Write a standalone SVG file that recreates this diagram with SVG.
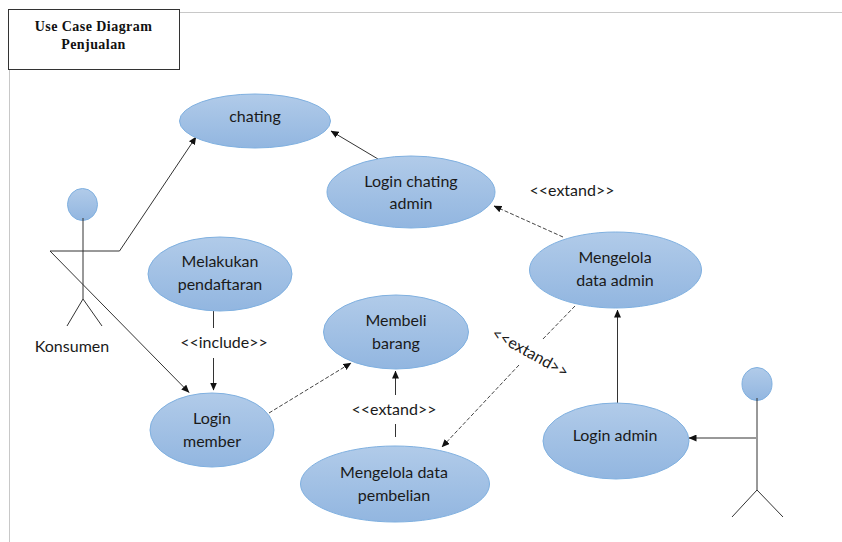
<svg xmlns="http://www.w3.org/2000/svg" width="842" height="542" viewBox="0 0 842 542">
<defs>
<linearGradient id="g" x1="0" y1="0" x2="0" y2="1"><stop offset="0" stop-color="#b1cbe9"/><stop offset="1" stop-color="#92b6e0"/></linearGradient>
<marker id="a" markerWidth="8" markerHeight="7" refX="7.500" refY="3.500" orient="auto" markerUnits="userSpaceOnUse"><path d="M0 0L8 3.500L0 7Z" fill="#111"/></marker>
</defs>
<style>
.n{fill:url(#g);stroke:#7fb0e0;stroke-width:1}
.t{font-family:Lato,"Open Sans",sans-serif;font-size:16px;fill:#1a1a1a;text-anchor:middle}
.l{fill:none;stroke:#333;stroke-width:1}
.d{fill:none;stroke:#444;stroke-width:1;stroke-dasharray:4 2}
.h{font-family:"Liberation Serif",serif;font-size:14px;font-weight:bold;fill:#111;text-anchor:middle;letter-spacing:.45px}
</style>
<path d="M180 12.500H842M9.500 70V542" fill="none" stroke="#c8c8c8" stroke-width="1"/>
<g id="title"><rect x="8.500" y="9.500" width="171" height="60" fill="#fff" stroke="#333" stroke-width="1"/>
<text class="h" x="93.500" y="31">Use Case Diagram</text><text class="h" x="93.500" y="49">Penjualan</text></g>
<g id="connectors">
<path class="l" d="M50 251H119.500L196 137" marker-end="url(#a)"/>
<path class="l" d="M50 251L189 392.500" marker-end="url(#a)"/>
<path class="l" d="M378 159L331 131" marker-end="url(#a)"/>
<path class="d" d="M563 237L494 206" marker-end="url(#a)"/>
<path class="l" d="M213.500 311V328"/>
<path class="l" d="M213.500 358V390" marker-end="url(#a)"/>
<path class="d" d="M269 413L351 363" marker-end="url(#a)"/>
<path class="l" d="M395.500 395V371" marker-end="url(#a)"/>
<path class="l" d="M395.500 424V437"/>
<path class="d" d="M575 306L542 340"/>
<path class="d" d="M519 365L442 447" marker-end="url(#a)"/>
<path class="l" d="M617.500 403V310" marker-end="url(#a)"/>
<path class="l" d="M756 438H689" marker-end="url(#a)"/>
</g>
<g id="actor-konsumen"><ellipse class="n" cx="82.500" cy="204.500" rx="15" ry="16"/><path class="l" d="M83 218V299M83 299L67 326M83 299L102 326"/><text class="t" x="72" y="352">Konsumen</text></g>
<g id="actor-admin"><ellipse class="n" cx="757" cy="384" rx="15" ry="16.500"/><path class="l" d="M757 398V490M757 490L732 517M757 490L783 517"/></g>
<g id="chating"><ellipse class="n" cx="255" cy="121" rx="75.500" ry="27"/><text class="t" x="255" y="122">chating</text></g>
<g id="login-chating"><ellipse class="n" cx="411" cy="192" rx="84" ry="36"/><text class="t" x="411" y="187">Login chating</text><text class="t" x="411" y="209">admin</text></g>
<g id="pendaftaran"><ellipse class="n" cx="220" cy="274" rx="72" ry="37"/><text class="t" x="220" y="267">Melakukan</text><text class="t" x="220" y="290">pendaftaran</text></g>
<g id="membeli"><ellipse class="n" cx="396" cy="332" rx="72.500" ry="37"/><text class="t" x="396" y="326">Membeli</text><text class="t" x="396" y="349">barang</text></g>
<g id="login-member"><ellipse class="n" cx="212" cy="430" rx="62" ry="37"/><text class="t" x="212" y="424">Login</text><text class="t" x="212" y="447">member</text></g>
<g id="mengelola-pembelian"><ellipse class="n" cx="395" cy="484" rx="94.500" ry="38"/><text class="t" x="394" y="478">Mengelola data</text><text class="t" x="394" y="501">pembelian</text></g>
<g id="mengelola-admin"><ellipse class="n" cx="615.500" cy="270" rx="86" ry="38"/><text class="t" x="615" y="263">Mengelola</text><text class="t" x="615" y="286">data admin</text></g>
<g id="login-admin"><ellipse class="n" cx="616" cy="441" rx="73" ry="38"/><text class="t" x="615" y="441">Login admin</text></g>
<text class="t" x="224" y="348">&lt;&lt;include&gt;&gt;</text>
<text class="t" x="394" y="415">&lt;&lt;extand&gt;&gt;</text>
<text class="t" x="572" y="196">&lt;&lt;extand&gt;&gt;</text>
<text class="t" transform="translate(530 353) rotate(29)" x="0" y="5">&lt;&lt;extand&gt;&gt;</text>
</svg>
